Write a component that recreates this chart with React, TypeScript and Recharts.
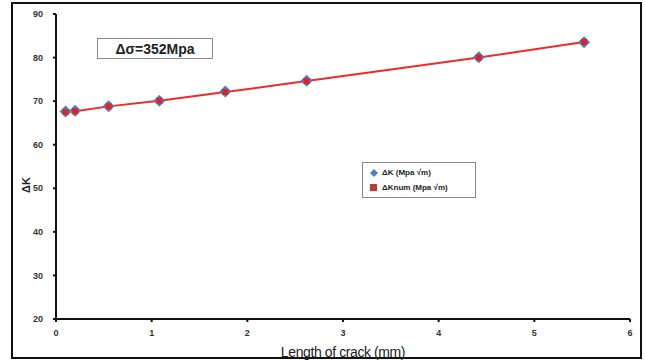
import React from 'react';
import {
  ComposedChart,
  Line,
  Scatter,
  XAxis,
  YAxis,
  Label,
} from 'recharts';

const crackLength = [0.1, 0.2, 0.55, 1.08, 1.77, 2.62, 4.42, 5.52];
const deltaK = [67.6, 67.8, 68.8, 70.1, 72.2, 74.7, 80.1, 83.5];
const deltaKnum = [67.5, 67.7, 68.8, 70.1, 72.1, 74.6, 80.0, 83.6];
const xTicks = [0, 1, 2, 3, 4, 5, 6];
const yTicks = [20, 30, 40, 50, 60, 70, 80, 90];

const data = crackLength.map((x, i) => ({ x, k: deltaK[i], knum: deltaKnum[i] }));

const FONT = '"Liberation Sans", Arial, sans-serif';

const tickStyle = { fill: '#333', fontSize: 9, fontWeight: 700, fontFamily: FONT };

function SquareDot(props: any) {
  const { cx, cy } = props;
  if (cx == null || cy == null) return null;
  return <rect x={cx - 3} y={cy - 3} width={6} height={6} fill="#d9262b" />;
}

function DiamondDot(props: any) {
  const { cx, cy } = props;
  if (cx == null || cy == null) return null;
  return (
    <polygon
      points={`${cx},${cy - 6} ${cx + 6},${cy} ${cx},${cy + 6} ${cx - 6},${cy}`}
      fill="#4a7fc6"
    />
  );
}

function LegendBox() {
  const row = { display: 'flex', alignItems: 'center', height: 15 } as const;
  return (
    <div
      style={{
        position: 'absolute',
        left: 362,
        top: 162,
        border: '1.5px solid #888',
        background: '#fff',
        padding: '2px 6px',
        fontFamily: FONT,
        fontSize: 8,
        fontWeight: 700,
        color: '#222',
        width: 100,
      }}
    >
      <div style={row}>
        <svg width={10} height={10}>
          <polygon points="5,1 9,5 5,9 1,5" fill="#4a7fc6" />
        </svg>
        <span style={{ marginLeft: 3 }}>ΔK (Mpa √m)</span>
      </div>
      <div style={row}>
        <svg width={10} height={10}>
          <rect x={1} y={1} width={7} height={7} fill="#c0392b" />
        </svg>
        <span style={{ marginLeft: 3 }}>ΔKnum (Mpa √m)</span>
      </div>
    </div>
  );
}

export default function App() {
  return (
    <div style={{ position: 'fixed', left: 0, top: 0, width: 645, height: 360, background: '#fff' }}>
      {/* outer frame */}
      <div
        style={{
          position: 'absolute',
          left: 11,
          top: 2,
          width: 627,
          height: 353,
          border: '2px solid #111',
        }}
      />
      <ComposedChart
        width={645}
        height={360}
        data={data}
        margin={{ top: 14, right: 15, bottom: 0, left: 0 }}
        style={{ position: 'absolute', left: 0, top: 0 }}
      >
        <XAxis
          type="number"
          dataKey="x"
          domain={[0, 6]}
          ticks={xTicks}
          axisLine={{ stroke: '#111', strokeWidth: 2 }}
          tickLine={{ stroke: '#111', strokeWidth: 2 }}
          tickSize={3}
          tick={tickStyle}
          tickMargin={8}
          height={41}
        >
          <Label
            value="Length of crack (mm)"
            position="insideBottom"
            offset={3}
            style={{ fill: '#222', fontSize: 14, fontFamily: FONT, letterSpacing: -0.4 }}
          />
        </XAxis>
        <YAxis
          type="number"
          domain={[20, 90]}
          ticks={yTicks}
          axisLine={{ stroke: '#111', strokeWidth: 2 }}
          tickLine={{ stroke: '#111', strokeWidth: 2 }}
          tickSize={3}
          tick={tickStyle}
          tickMargin={10}
          width={56}
        >
          <Label
            content={() => (
              <text
                x={26}
                y={185}
                transform="rotate(-90 26 185)"
                textAnchor="middle"
                dominantBaseline="central"
                fill="#222"
                fontSize={11}
                fontWeight={700}
                fontFamily={FONT}
              >
                ΔK
              </text>
            )}
          />
        </YAxis>
        <Scatter
          name="ΔK (Mpa √m)"
          dataKey="k"
          fill="#4a7fc6"
          shape={<DiamondDot />}
          isAnimationActive={false}
        />
        <Line
          name="ΔKnum (Mpa √m)"
          type="linear"
          dataKey="knum"
          stroke="#f02a2a"
          strokeWidth={2}
          dot={<SquareDot />}
          activeDot={false}
          isAnimationActive={false}
        />
      </ComposedChart>
      <LegendBox />
      {/* annotation box */}
      <div
        style={{
          position: 'absolute',
          left: 97,
          top: 38,
          width: 116,
          height: 21,
          border: '1.5px solid #888',
          background: '#fff',
          fontFamily: FONT,
          fontSize: 14,
          fontWeight: 700,
          color: '#222',
          display: 'flex',
          alignItems: 'center',
          justifyContent: 'center',
          boxSizing: 'border-box',
        }}
      >
        Δσ=352Mpa
      </div>
    </div>
  );
}
